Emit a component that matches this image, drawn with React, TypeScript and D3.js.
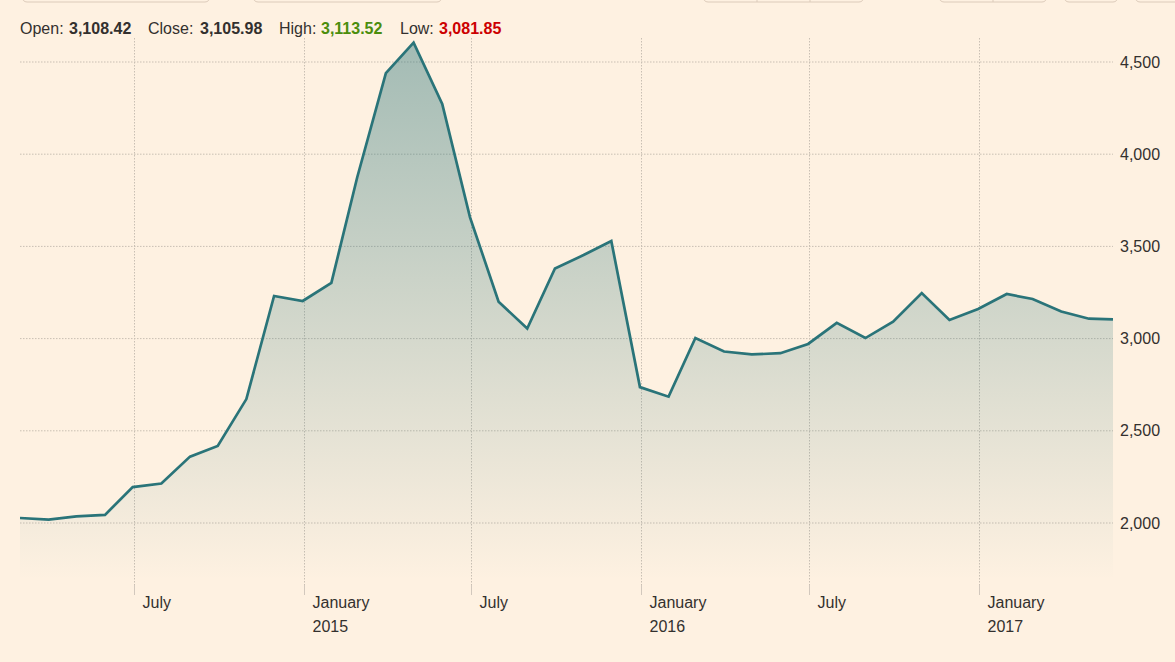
import * as d3 from 'd3';
import { useEffect } from 'react';

// monthly closes, Feb 2014 .. May 2017 (month-end; last one is the latest session)
const dates = [
  '2014-02-28', '2014-03-31', '2014-04-30', '2014-05-31', '2014-06-30', '2014-07-31', '2014-08-31', '2014-09-30',
  '2014-10-31', '2014-11-30', '2014-12-31', '2015-01-31', '2015-02-28', '2015-03-31', '2015-04-30', '2015-05-31',
  '2015-06-30', '2015-07-31', '2015-08-31', '2015-09-30', '2015-10-31', '2015-11-30', '2015-12-31', '2016-01-31',
  '2016-02-29', '2016-03-31', '2016-04-30', '2016-05-31', '2016-06-30', '2016-07-31', '2016-08-31', '2016-09-30',
  '2016-10-31', '2016-11-30', '2016-12-31', '2017-01-31', '2017-02-28', '2017-03-31', '2017-04-30', '2017-05-26',
];
const closes = [
  2027, 2018, 2036, 2044, 2195, 2214, 2360, 2418,
  2672, 3231, 3204, 3302, 3875, 4440, 4605, 4272,
  3659, 3200, 3055, 3380, 3453, 3529, 2737, 2685,
  3003, 2930, 2914, 2921, 2971, 3085, 3003, 3092,
  3247, 3101, 3161, 3242, 3215, 3147, 3108, 3104,
];
const yTicks = [2000, 2500, 3000, 3500, 4000, 4500];
const xTicks = ['2014-07-01', '2015-01-01', '2015-07-01', '2016-01-01', '2016-07-01', '2017-01-01'];
const stats = [
  { label: 'Open:', value: '3,108.42', color: '#33302e', lx: 20, vx: 69 },
  { label: 'Close:', value: '3,105.98', color: '#33302e', lx: 148, vx: 200 },
  { label: 'High:', value: '3,113.52', color: '#4b8d0c', lx: 279, vx: 321 },
  { label: 'Low:', value: '3,081.85', color: '#cc0000', lx: 400, vx: 439 },
];

const W = 1175;
const H = 662;
const left = 20;
const right = 1113;
const top = 38;
const bottom = 580;
const bg = '#fef1e1';
const teal = '#2a7479';
const grid = '#c9bfb3';
const font = '"Liberation Sans", Arial, sans-serif';

const parse = d3.timeParse('%Y-%m-%d');

export default function App() {
  useEffect(() => {
    document.body.style.margin = '0';
  }, []);

  const data = dates.map((s, i) => ({ date: parse(s)!, value: closes[i] }));
  const x = d3.scaleTime()
    .domain(d3.extent(data, (d) => d.date) as [Date, Date])
    .range([left, right]);
  const y = d3.scaleLinear().domain([2000, 4500]).range([523, 62]);
  const base = y.invert(bottom);

  const line = d3.line<{ date: Date; value: number }>()
    .x((d) => x(d.date))
    .y((d) => y(d.value));
  const area = d3.area<{ date: Date; value: number }>()
    .x((d) => x(d.date))
    .y0(y(base))
    .y1((d) => y(d.value));

  const fmtMonth = d3.timeFormat('%B');
  const fmtYear = d3.timeFormat('%Y');
  const maxY = y(d3.max(closes)!);

  return (
    <svg width={W} height={H} style={{ position: 'absolute', left: 0, top: 0, display: 'block' }} fontFamily={font}>
      <defs>
        <linearGradient id="fade" gradientUnits="userSpaceOnUse" x1={0} x2={0} y1={maxY} y2={bottom}>
          <stop offset="0" stopColor={teal} stopOpacity={0.43} />
          <stop offset="1" stopColor={teal} stopOpacity={0} />
        </linearGradient>
      </defs>
      <rect width={W} height={H} fill={bg} />

      {/* cropped toolbar buttons */}
      <g fill="none" stroke="#dccbba" strokeWidth={1}>
        <rect x={22} y={-30} width={188} height={32} rx={5} />
        <rect x={253} y={-30} width={189} height={32} rx={5} />
        <rect x={703} y={-30} width={161} height={32} rx={5} />
        <line x1={757} x2={757} y1={-2} y2={2} />
        <line x1={810} x2={810} y1={-2} y2={2} />
        <rect x={939} y={-30} width={108} height={32} rx={5} />
        <line x1={993} x2={993} y1={-2} y2={2} />
        <rect x={1064} y={-30} width={54} height={32} rx={5} />
        <rect x={1135} y={-30} width={60} height={32} rx={5} />
      </g>

      {stats.map((s) => (
        <g key={s.label} fontSize={16}>
          <text x={s.lx} y={34} fill="#33302e">{s.label}</text>
          <text x={s.vx} y={34} fill={s.color} fontWeight="bold">{s.value}</text>
        </g>
      ))}

      {yTicks.map((t) => (
        <g key={t}>
          <line x1={left} x2={right} y1={y(t)} y2={y(t)} stroke={grid} strokeDasharray="1.5 1.5" />
          <text x={1120} y={y(t)} dy="0.35em" fontSize={16} fill="#33302e">{d3.format(',')(t)}</text>
        </g>
      ))}

      {xTicks.map((s) => {
        const d = parse(s)!;
        const tx = Math.round(x(d)) + 0.5;
        return (
          <g key={s}>
            <line x1={tx} x2={tx} y1={top} y2={585} stroke={grid} strokeDasharray="1.5 1.5" />
            <line x1={tx} x2={tx} y1={585} y2={595} stroke="#d2c8bd" />
            <text x={tx + 8} y={608} fontSize={16} fill="#33302e">{fmtMonth(d)}</text>
            {d.getMonth() === 0 && (
              <text x={tx + 8} y={632} fontSize={16} fill="#33302e">{fmtYear(d)}</text>
            )}
          </g>
        );
      })}

      <path d={area(data) || ''} fill="url(#fade)" />
      <path d={line(data) || ''} fill="none" stroke={teal} strokeWidth={2.7} />
    </svg>
  );
}
